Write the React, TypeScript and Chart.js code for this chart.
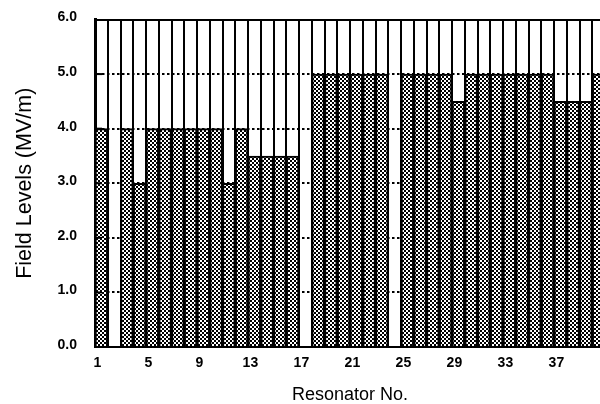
import React, { useEffect, useRef } from "react";
import { Chart, registerables } from "chart.js";

Chart.register(...registerables);

const resonators: string[] = Array.from({ length: 40 }, (_, i) => String(i + 1));
const fieldLevels: number[] = [
  4.0, 0, 4.0, 3.0, 4.0, 4.0, 4.0, 4.0, 4.0, 4.0,
  3.0, 4.0, 3.5, 3.5, 3.5, 3.5, 0, 5.0, 5.0, 5.0,
  5.0, 5.0, 5.0, 0, 5.0, 5.0, 5.0, 5.0, 4.5, 5.0,
  5.0, 5.0, 5.0, 5.0, 5.0, 5.0, 4.5, 4.5, 4.5, 5.0,
];
const yTicks: number[] = [0, 1, 2, 3, 4, 5, 6];
const yTitle = "Field Levels (MV/m)";
const xTitle = "Resonator No.";

function makePattern(): CanvasPattern | string {
  const c = document.createElement("canvas");
  c.width = 4;
  c.height = 4;
  const g = c.getContext("2d");
  if (!g) return "#555";
  g.fillStyle = "#000";
  g.fillRect(0, 0, 4, 4);
  g.fillStyle = "#fff";
  g.fillRect(0, 0, 2, 2);
  g.fillRect(2, 2, 2, 2);
  const p = g.createPattern(c, "repeat");
  return p || "#555";
}

const innerTicks = {
  id: "innerTicks",
  afterDatasetsDraw(chart: any) {
    const { ctx, chartArea, scales } = chart;
    const y = scales.y;
    ctx.save();
    ctx.strokeStyle = "#000";
    ctx.lineWidth = 2;
    yTicks.forEach((v) => {
      if (v <= 0 || v >= 6) return;
      const py = y.getPixelForValue(v);
      ctx.beginPath();
      ctx.moveTo(chartArea.left, py);
      ctx.lineTo(chartArea.left + 7, py);
      ctx.stroke();
    });
    ctx.restore();
  },
};

export default function App() {
  const ref = useRef<HTMLCanvasElement | null>(null);
  useEffect(() => {
    if (!ref.current) return;
    const pattern = makePattern();
    const chart = new Chart(ref.current, {
      type: "bar",
      data: {
        labels: resonators,
        datasets: [
          {
            data: fieldLevels,
            backgroundColor: pattern as any,
            borderColor: "#000",
            borderWidth: 2,
            borderSkipped: "start",
            barPercentage: 1,
            categoryPercentage: 1,
          },
        ],
      },
      options: {
        responsive: false,
        animation: false,
        devicePixelRatio: 1,
        layout: { padding: { top: 19.5, right: 3, bottom: 0, left: 0 } },
        plugins: { legend: { display: false }, tooltip: { enabled: false } },
        scales: {
          x: {
            grid: {
              offset: true,
              color: "#000",
              lineWidth: 2,
              drawTicks: false,
            },
            border: { display: true, color: "#000", width: 2 },
            ticks: {
              autoSkip: false,
              maxRotation: 0,
              padding: 8,
              labelOffset: -4,
              color: "#000",
              font: { family: "Liberation Sans, Arial, sans-serif", size: 14, weight: "bold" },
              callback: (_v: any, i: number) => (i % 4 === 0 ? resonators[i] : ""),
            },
            title: {
              display: true,
              text: xTitle,
              color: "#000",
              font: { family: "Liberation Sans, Arial, sans-serif", size: 18, lineHeight: 1 },
              padding: { top: 0, bottom: 0 },
            },
            afterFit: (s: any) => {
              s.height = 57;
              s.paddingLeft = 0;
              s.paddingRight = 0;
            },
          },
          y: {
            min: 0,
            max: 6,
            ticks: {
              stepSize: 1,
              padding: 18,
              labelOffset: -2,
              color: "#000",
              font: { family: "Liberation Sans, Arial, sans-serif", size: 14, weight: "bold" },
              callback: (v: any) => Number(v).toFixed(1),
            },
            grid: {
              color: "#000",
              lineWidth: 2,
              drawTicks: false,
            },
            border: {
              display: true,
              color: "#000",
              width: 3,
              dash: (ctx: any) =>
                ctx.tick && ctx.tick.value > 0 && ctx.tick.value < 6 ? [2.5, 2.5] : [],
            },
            title: {
              display: true,
              text: yTitle,
              color: "#000",
              font: { family: "Liberation Sans, Arial, sans-serif", size: 21.5, lineHeight: 1 },
              padding: { top: 14, bottom: 0 },
            },
            afterFit: (s: any) => {
              s.width = 95;
              s.paddingTop = 0;
              s.paddingBottom = 0;
            },
          },
        },
      },
      plugins: [innerTicks],
    });
    return () => chart.destroy();
  }, []);
  return (
    <div
      style={{
        position: "absolute",
        left: 0,
        top: 0,
        width: 600,
        height: 404,
        overflow: "hidden",
        background: "#fff",
      }}
    >
      <canvas ref={ref} width={608} height={404} style={{ width: 608, height: 404 }} />
    </div>
  );
}
